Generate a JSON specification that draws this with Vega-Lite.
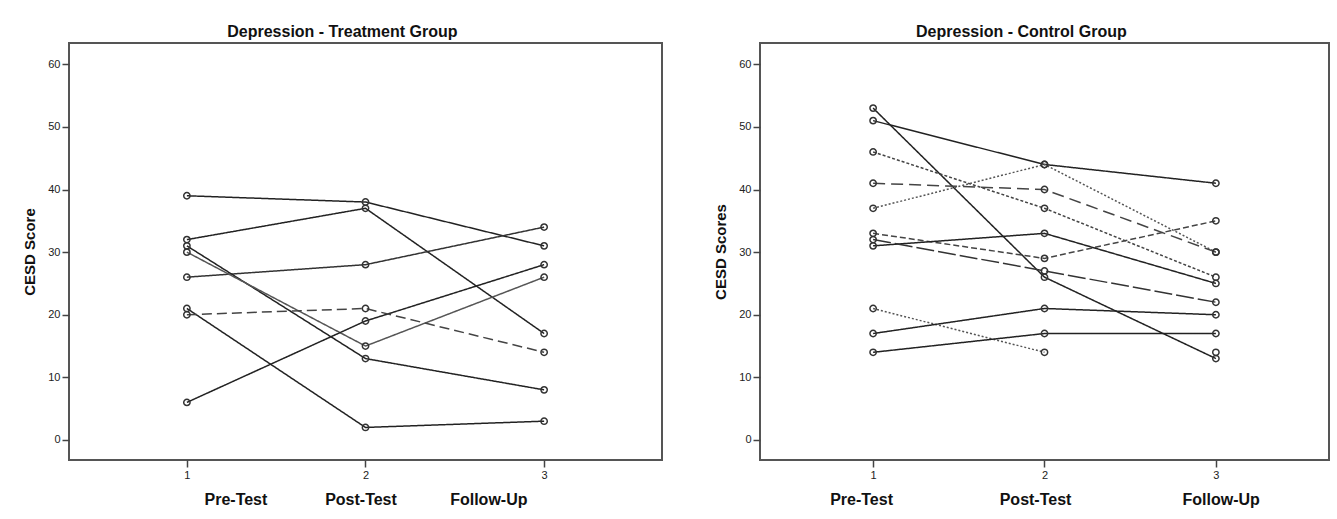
{
  "$schema": "https://vega.github.io/schema/vega-lite/v6.json",
  "padding": {"left": 21, "top": 23, "right": 0, "bottom": 0},
  "background": "white",
  "spacing": 49,
  "datasets": {
    "treatment": [
      {"id": "T1", "time": 1, "score": 39}, {"id": "T1", "time": 2, "score": 38}, {"id": "T1", "time": 3, "score": 31},
      {"id": "T2", "time": 1, "score": 32}, {"id": "T2", "time": 2, "score": 37}, {"id": "T2", "time": 3, "score": 17},
      {"id": "T3", "time": 1, "score": 26}, {"id": "T3", "time": 2, "score": 28}, {"id": "T3", "time": 3, "score": 34},
      {"id": "T4", "time": 1, "score": 31}, {"id": "T4", "time": 2, "score": 13}, {"id": "T4", "time": 3, "score": 8},
      {"id": "T5", "time": 1, "score": 30}, {"id": "T5", "time": 2, "score": 15}, {"id": "T5", "time": 3, "score": 26},
      {"id": "T6", "time": 1, "score": 6}, {"id": "T6", "time": 2, "score": 19}, {"id": "T6", "time": 3, "score": 28},
      {"id": "T7", "time": 1, "score": 21}, {"id": "T7", "time": 2, "score": 2}, {"id": "T7", "time": 3, "score": 3},
      {"id": "T8", "time": 1, "score": 20}, {"id": "T8", "time": 2, "score": 21}, {"id": "T8", "time": 3, "score": 14}
    ],
    "control": [
      {"id": "C1", "time": 1, "score": 53}, {"id": "C1", "time": 2, "score": 26}, {"id": "C1", "time": 3, "score": 13},
      {"id": "C2", "time": 1, "score": 51}, {"id": "C2", "time": 2, "score": 44}, {"id": "C2", "time": 3, "score": 41},
      {"id": "C3", "time": 1, "score": 46}, {"id": "C3", "time": 2, "score": 37}, {"id": "C3", "time": 3, "score": 26},
      {"id": "C4", "time": 1, "score": 41}, {"id": "C4", "time": 2, "score": 40}, {"id": "C4", "time": 3, "score": 30},
      {"id": "C5", "time": 1, "score": 37}, {"id": "C5", "time": 2, "score": 44}, {"id": "C5", "time": 3, "score": 30},
      {"id": "C6", "time": 1, "score": 33}, {"id": "C6", "time": 2, "score": 29}, {"id": "C6", "time": 3, "score": 35},
      {"id": "C7", "time": 1, "score": 31}, {"id": "C7", "time": 2, "score": 33}, {"id": "C7", "time": 3, "score": 25},
      {"id": "C8", "time": 1, "score": 32}, {"id": "C8", "time": 2, "score": 27}, {"id": "C8", "time": 3, "score": 22},
      {"id": "C9", "time": 1, "score": 21}, {"id": "C9", "time": 2, "score": 14},
      {"id": "C10", "time": 1, "score": 17}, {"id": "C10", "time": 2, "score": 21}, {"id": "C10", "time": 3, "score": 20},
      {"id": "C11", "time": 1, "score": 14}, {"id": "C11", "time": 2, "score": 17}, {"id": "C11", "time": 3, "score": 17},
      {"id": "C12", "time": 3, "score": 14}
    ]
  },
  "hconcat": [
    {
      "title": {"text": "Depression - Treatment Group", "frame": "bounds", "anchor": "middle", "offset": 3},
      "data": {"name": "treatment"},
      "width": 593,
      "height": 417,
      "layer": [
        {
          "mark": {"type": "line", "strokeWidth": 1.5},
          "encoding": {
            "x": {"field": "time", "type": "quantitative", "scale": {"domain": [0.34, 3.66], "nice": false, "zero": false},
                  "axis": {"values": [1, 2, 3], "format": "d", "title": "Pre-Test\u00a0\u00a0\u00a0\u00a0\u00a0\u00a0\u00a0\u00a0\u00a0\u00a0\u00a0\u00a0\u00a0Post-Test\u00a0\u00a0\u00a0\u00a0\u00a0\u00a0\u00a0\u00a0\u00a0\u00a0\u00a0\u00a0Follow-Up"}},
            "y": {"field": "score", "type": "quantitative", "scale": {"domain": [-3.2, 63.4], "nice": false, "zero": false},
                  "axis": {"values": [0, 10, 20, 30, 40, 50, 60], "title": "CESD Score"}},
            "detail": {"field": "id"},
            "strokeDash": {"field": "id", "type": "nominal", "legend": null,
              "scale": {"domain": ["T1","T2","T3","T4","T5","T6","T7","T8"],
                        "range": [[1,0],[1,0],[1,0],[1,0],[1,0],[1,0],[1,0],[10,5]]}},
            "color": {"field": "id", "type": "nominal", "legend": null,
              "scale": {"domain": ["T1","T2","T3","T4","T5","T6","T7","T8"],
                        "range": ["#222","#222","#333","#222","#555","#222","#222","#444"]}}
          }
        },
        {
          "mark": {"type": "point", "shape": "circle", "filled": false, "size": 40, "strokeWidth": 1.5, "color": "#333", "opacity": 1},
          "encoding": {
            "x": {"field": "time", "type": "quantitative"},
            "y": {"field": "score", "type": "quantitative"}
          }
        }
      ]
    },
    {
      "title": {"text": "Depression - Control Group", "frame": "bounds", "anchor": "middle", "offset": 3},
      "data": {"name": "control"},
      "width": 569,
      "height": 417,
      "layer": [
        {
          "mark": {"type": "line", "strokeWidth": 1.5},
          "encoding": {
            "x": {"field": "time", "type": "quantitative", "scale": {"domain": [0.34, 3.66], "nice": false, "zero": false},
                  "axis": {"values": [1, 2, 3], "format": "d", "title": "Pre-Test\u00a0\u00a0\u00a0\u00a0\u00a0\u00a0\u00a0\u00a0\u00a0\u00a0\u00a0\u00a0\u00a0\u00a0\u00a0\u00a0\u00a0\u00a0\u00a0\u00a0\u00a0\u00a0\u00a0\u00a0Post-Test\u00a0\u00a0\u00a0\u00a0\u00a0\u00a0\u00a0\u00a0\u00a0\u00a0\u00a0\u00a0\u00a0\u00a0\u00a0\u00a0\u00a0\u00a0\u00a0\u00a0\u00a0\u00a0\u00a0\u00a0\u00a0Follow-Up"}},
            "y": {"field": "score", "type": "quantitative", "scale": {"domain": [-3.2, 63.4], "nice": false, "zero": false},
                  "axis": {"values": [0, 10, 20, 30, 40, 50, 60], "title": "CESD Scores"}},
            "detail": {"field": "id"},
            "strokeDash": {"field": "id", "type": "nominal", "legend": null,
              "scale": {"domain": ["C1","C2","C3","C4","C5","C6","C7","C8","C9","C10","C11","C12"],
                        "range": [[1,0],[1,0],[3,2],[12,6],[2,2],[6,3],[1,0],[18,4],[2,2],[1,0],[1,0],[1,0]]}},
            "color": {"field": "id", "type": "nominal", "legend": null,
              "scale": {"domain": ["C1","C2","C3","C4","C5","C6","C7","C8","C9","C10","C11","C12"],
                        "range": ["#222","#222","#444","#444","#555","#444","#222","#333","#555","#222","#222","#222"]}}
          }
        },
        {
          "mark": {"type": "point", "shape": "circle", "filled": false, "size": 40, "strokeWidth": 1.5, "color": "#333", "opacity": 1},
          "encoding": {
            "x": {"field": "time", "type": "quantitative"},
            "y": {"field": "score", "type": "quantitative"}
          }
        }
      ]
    }
  ],
  "resolve": {"scale": {"x": "independent", "y": "independent", "strokeDash": "independent", "color": "independent"}},
  "config": {
    "font": "Liberation Sans",
    "view": {"stroke": "#555", "strokeWidth": 2},
    "title": {"fontSize": 16, "fontWeight": "bold", "color": "#111", "font": "Liberation Sans"},
    "axis": {
      "grid": false,
      "domain": false,
      "ticks": true,
      "tickSize": 7,
      "tickWidth": 1.5,
      "tickColor": "#444",
      "labelFont": "Liberation Sans",
      "labelFontSize": 11,
      "labelColor": "#222",
      "labelPadding": 2,
      "titleFont": "Liberation Sans",
      "titleFontWeight": "bold",
      "titleColor": "#111"
    },
    "axisX": {"titleFontSize": 16, "titlePadding": 11},
    "axisY": {"titleFontSize": 15, "titlePadding": 10}
  }
}
